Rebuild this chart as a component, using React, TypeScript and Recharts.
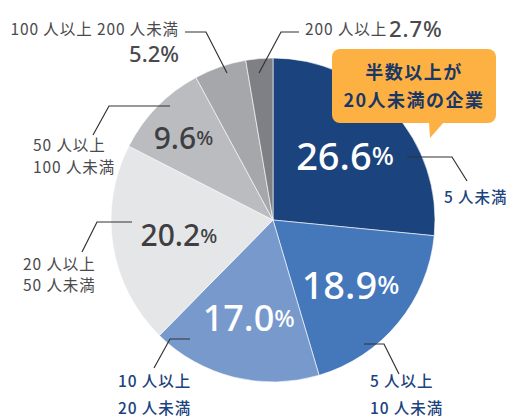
import React from 'react'
import { PieChart, Pie, Cell } from 'recharts'

const categories = ['5人未満', '5人以上10人未満', '10人以上20人未満', '20人以上50人未満', '50人以上100人未満', '100人以上200人未満', '200人以上']
const shares = [26.6, 18.9, 17.0, 20.2, 9.6, 5.2, 2.7]
const outerLabels = [
  ['5 人未満'],
  ['5 人以上', '10 人未満'],
  ['10 人以上', '20 人未満'],
  ['20 人以上', '50 人未満'],
  ['50 人以上', '100 人未満'],
  ['100 人以上 200 人未満'],
  ['200 人以上'],
]
const calloutLines = ['半数以上が', '20人未満の企業']

const data = categories.map((name, i) => ({ name, value: shares[i] }))

const COLORS = ['#1b437e', '#4577bb', '#7799cc', '#e5e6e8', '#bbbcc0', '#a6a7ab', '#7f8085']
const INNER_R = [0.6, 0.62, 0.62, 0.57, 0.73, 0, 0]
const INNER_FILL = ['#fff', '#fff', '#fff', '#3f3f42', '#3f3f42', '', '']
const INNER_SIZE = [38, 38, 36, 30, 30, 0, 0]
const INNER_DX = [0, 0, 0, -3, -5, 0, 0]
const NAVY = '#1b437e'
const GRAY_TXT = '#4a4a4e'

// leader lines: points relative to pie centre; text pos relative too
const LEADERS: { pts: number[][]; tx: number; ty: number[]; anchor: 'start' | 'end'; color: string }[] = [
  { pts: [[134, -63], [179, -63], [194, -39]], tx: 171, ty: [-24], anchor: 'start', color: NAVY },
  { pts: [[91, 124], [111, 124], [126, 154]], tx: 97, ty: [160, 187], anchor: 'start', color: NAVY },
  { pts: [[-83, 119], [-103, 119], [-119, 148]], tx: -155, ty: [160, 187], anchor: 'start', color: NAVY },
  { pts: [[-141, 2], [-176, 2], [-191, 32]], tx: -250, ty: [43, 64], anchor: 'start', color: GRAY_TXT },
  { pts: [[-103, -114], [-164, -114], [-180, -85]], tx: -240, ty: [-76, -54], anchor: 'start', color: GRAY_TXT },
  { pts: [[-46, -147], [-67, -188], [-88, -188]], tx: -94, ty: [-192], anchor: 'end', color: GRAY_TXT },
  { pts: [[-14, -147], [8, -188], [26, -188]], tx: 32, ty: [-192], anchor: 'start', color: GRAY_TXT },
]

const FONT = '"Noto Sans", "Noto Sans CJK JP", sans-serif'
const JP = '"Noto Sans CJK JP", "Noto Sans", sans-serif'

const renderLabel = (props: any) => {
  const { cx, cy, midAngle, outerRadius, index } = props
  const RAD = Math.PI / 180
  const lead = LEADERS[index]
  const pct = shares[index].toFixed(1)
  const nodes: React.ReactNode[] = []

  if (INNER_R[index] > 0) {
    const r = outerRadius * INNER_R[index]
    const x = cx + r * Math.cos(-midAngle * RAD) + INNER_DX[index]
    const y = cy + r * Math.sin(-midAngle * RAD)
    const fs = INNER_SIZE[index]
    nodes.push(
      <text key="v" x={x} y={y} textAnchor="middle" dominantBaseline="central" fill={INNER_FILL[index]}
        fontFamily={FONT} fontWeight={500} fontSize={fs}>
        {pct}<tspan fontSize={Math.round(fs * 0.68)}>%</tspan>
      </text>
    )
  }

  const pts = lead.pts.map(([dx, dy]) => `${cx + dx},${cy + dy}`).join(' ')
  nodes.push(<polyline key="l" points={pts} fill="none" stroke="#333" strokeWidth={1.2} />)

  outerLabels[index].forEach((line, j) => {
    nodes.push(
      <text key={'t' + j} x={cx + lead.tx} y={cy + lead.ty[j]} textAnchor={lead.anchor} dominantBaseline="central"
        fill={lead.color} fontFamily={JP} fontSize={15.5} fontWeight={lead.color === NAVY ? 500 : 400} letterSpacing={0.9}>
        {line}
        {index === 6 && <tspan fontFamily={FONT} fontSize={22} fontWeight={500} dx={2}>{pct}%</tspan>}
      </text>
    )
  })
  if (index === 5) {
    nodes.push(
      <text key="p" x={cx + lead.tx} y={cy - 167} textAnchor="end" dominantBaseline="central"
        fill={GRAY_TXT} fontFamily={FONT} fontSize={22} fontWeight={500}>
        {pct}%
      </text>
    )
  }
  return <g>{nodes}</g>
}

export default function App() {
  return (
    <div style={{ position: 'absolute', left: 0, top: 0, width: 506, height: 418, background: '#fff' }}>
      <PieChart width={506} height={418}>
        <Pie
          data={data}
          dataKey="value"
          nameKey="name"
          cx={268}
          cy={215}
          outerRadius={162}
          startAngle={90}
          endAngle={-270}
          stroke="#ffffff"
          strokeWidth={0.6}
          label={renderLabel}
          labelLine={false}
          isAnimationActive={false}
        >
          {data.map((d, i) => (
            <Cell key={d.name} fill={COLORS[i]} />
          ))}
        </Pie>
      </PieChart>
      <svg width={506} height={418} style={{ position: 'absolute', left: 0, top: 0, pointerEvents: 'none' }}>
        <rect x={332} y={49} width={164} height={74} rx={8} fill="#fdb143" />
        <path d="M429,122 L430,138 L444,122 Z" fill="#fdb143" />
        {calloutLines.map((line, i) => (
          <text key={line} x={414} y={71 + i * 28} textAnchor="middle" dominantBaseline="central"
            fill="#1b3766" fontFamily={JP} fontWeight={700} fontSize={18} letterSpacing={1.5}>
            {line}
          </text>
        ))}
      </svg>
    </div>
  )
}
